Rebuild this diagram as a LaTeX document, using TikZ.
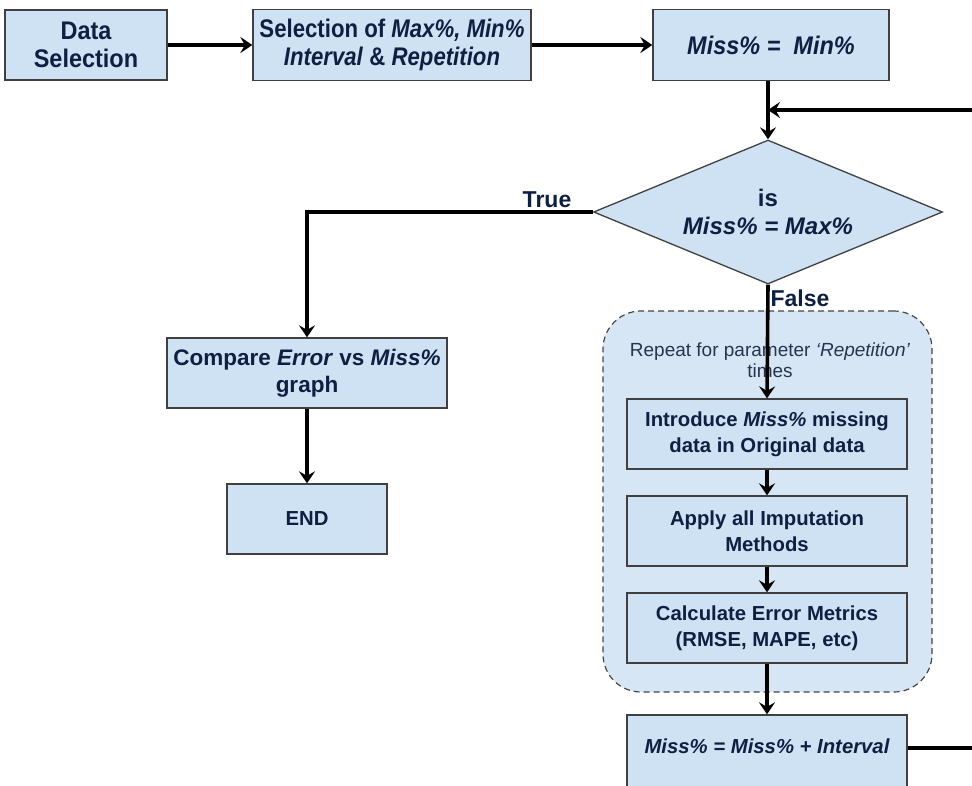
\documentclass[tikz,border=0pt]{standalone}
\usepackage{fontspec}
\setmainfont{Liberation Sans}
\newfontfamily\narrowfont[FakeStretch=0.92]{Liberation Sans}
\newfontfamily\narrowerfont[FakeStretch=0.87]{Liberation Sans}
\usetikzlibrary{arrows.meta,shapes.geometric}
\definecolor{boxfill}{RGB}{207,226,243}
\definecolor{grpfill}{RGB}{214,230,245}
\definecolor{boxline}{RGB}{64,64,64}
\definecolor{navy}{RGB}{14,32,66}
\definecolor{greytext}{RGB}{40,52,78}
\begin{document}
\begin{tikzpicture}[x=1pt,y=-1pt,
  stepbox/.style={draw=boxline,line width=1.3pt,fill=boxfill,inner sep=0pt,align=center,text=navy},
  topbox/.style={stepbox,font=\narrowfont\bfseries\fontsize{25.5}{28}\selectfont},
  midbox/.style={stepbox,minimum width=280pt,minimum height=70pt,font=\bfseries\fontsize{20.3}{26}\selectfont},
  flow/.style={line width=3.6pt,-{Stealth[length=12pt,width=16pt,inset=4.5pt]}},
  plain/.style={line width=3.6pt},
  lbl/.style={text=navy,font=\bfseries\fontsize{23}{26}\selectfont,inner sep=0pt}]
\useasboundingbox (0,0) rectangle (972,785);
% top row
\node[topbox,minimum width=162pt,minimum height=70pt] (ds) at (86,45) {Data\\Selection};
\node[topbox,minimum width=278pt,minimum height=71pt,font=\narrowerfont\bfseries\fontsize{25.5}{28}\selectfont] (sel) at (392,45) {Selection of \textit{Max\%, Min\%}\\\textit{Interval} \& \textit{Repetition}};
\node[topbox,minimum width=236pt,minimum height=71pt] (min) at (771,45) {\textit{Miss\% =\ \ Min\%}};
% diamond
\node[draw=boxline,line width=1.3pt,fill=boxfill,shape=diamond,minimum width=349pt,minimum height=144pt,inner sep=0pt,aspect=2.42,align=center,text=navy,font=\bfseries\fontsize{24}{28}\selectfont] (dia) at (768,212) {is\\\textit{Miss\% = Max\%}};
% left branch
\node[midbox,minimum width=280pt,font=\bfseries\fontsize{22.5}{27}\selectfont] (cmp) at (307,373) {Compare \textit{Error} vs \textit{Miss\%}\\graph};
\node[midbox,minimum width=160pt] (end) at (307,519) {END};
% group
\node[draw=gray!55!black,dash pattern=on 6pt off 4pt,line width=1.2pt,fill=grpfill,rounded corners=38pt,minimum width=329pt,minimum height=381pt,inner sep=0pt] (grp) at (767.5,501.5) {};
\node[text=greytext,font=\fontsize{19}{21}\selectfont,align=center,inner sep=0pt] (rep) at (770,360) {Repeat for parameter \textit{`Repetition'}\\times};
\node[midbox] (intro) at (767,434) {Introduce \textit{Miss\%} missing\\data in Original data};
\node[midbox] (apply) at (767,531) {Apply all Imputation\\Methods};
\node[midbox] (calc) at (767,628) {Calculate Error Metrics\\(RMSE, MAPE, etc)};
\node[midbox,minimum height=76pt,font=\bfseries\itshape\fontsize{20.3}{26}\selectfont,text depth=0pt] (inter) at (767,753) {\raisebox{13pt}{Miss\% = Miss\% + Interval}};
% labels
\node[lbl] (ltrue) at (547,200) {True};
\node[lbl] (lfalse) at (800,298) {False};
% coordinates
\coordinate (fbin) at (972,110);
\coordinate (fbout) at (972,748);
% connectors
\draw[flow] (ds.east) -- (sel.west);
\draw[flow] (sel.east) -- (min.west);
\draw[flow] (dia.north |- min.south) -- (dia.north);
\draw[flow] (fbin) -- (fbin -| dia.north);
\draw[flow] (dia.west) -| (cmp.north);
\draw[flow] (cmp.south) -- (end.north);
\draw[flow] (dia.south) -- (intro.north);
\draw[flow] (intro.south) -- (apply.north);
\draw[flow] (apply.south) -- (calc.north);
\draw[flow] (calc.south) -- (inter.north);
\draw[plain] (inter.east |- fbout) -- (fbout);
\end{tikzpicture}
\end{document}
